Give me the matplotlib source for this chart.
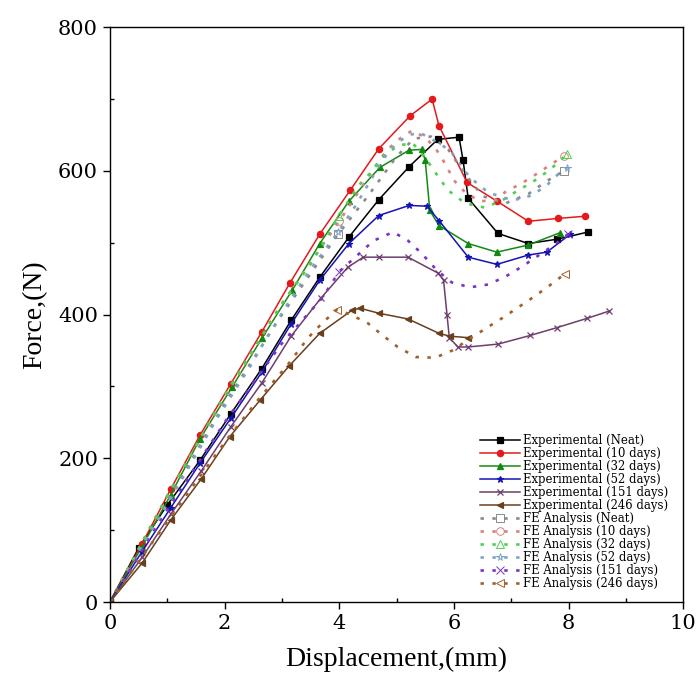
import numpy as np
import matplotlib.pyplot as plt
from matplotlib.ticker import MultipleLocator

# --- experimental curves (displacement mm, force N) ---
neat_x = [0, 0.5, 1.0, 1.57, 2.11, 2.65, 3.16, 3.66, 4.17, 4.69, 5.22, 5.72, 6.09, 6.16, 6.25, 6.77, 7.30, 7.80, 8.34]
neat_y = [0, 75, 135, 197, 262, 325, 392, 452, 508, 560, 606, 644, 647, 615, 562, 513, 499, 505, 515]

d10_x = [0, 0.56, 1.06, 1.57, 2.11, 2.65, 3.14, 3.66, 4.19, 4.69, 5.24, 5.62, 5.74, 6.23, 6.75, 7.30, 7.82, 8.29]
d10_y = [0, 81, 157, 232, 304, 376, 444, 512, 573, 631, 677, 700, 663, 584, 558, 530, 534, 537]

d32_x = [0, 0.56, 1.06, 1.57, 2.13, 2.65, 3.18, 3.66, 4.17, 4.71, 5.22, 5.44, 5.5, 5.58, 5.74, 6.25, 6.75, 7.30, 7.85]
d32_y = [0, 77, 149, 227, 299, 367, 434, 499, 558, 605, 629, 630, 615, 545, 524, 499, 487, 497, 514]

d52_x = [0, 0.56, 1.06, 1.57, 2.11, 2.65, 3.16, 3.66, 4.17, 4.69, 5.22, 5.53, 5.74, 6.25, 6.75, 7.30, 7.62, 8.03]
d52_y = [0, 70, 131, 193, 256, 320, 387, 448, 499, 538, 552, 551, 531, 480, 470, 483, 487, 512]

d151_x = [0, 0.56, 1.06, 1.59, 2.11, 2.65, 3.16, 3.68, 4.15, 4.42, 4.69, 5.2, 5.72, 5.82, 5.88, 5.92, 6.07, 6.25, 6.77, 7.33, 7.80, 8.33, 8.71]
d151_y = [0, 62, 122, 182, 244, 305, 370, 423, 466, 480, 480, 480, 458, 448, 400, 368, 355, 355, 359, 371, 382, 395, 405]

d246_x = [0, 0.56, 1.06, 1.59, 2.09, 2.62, 3.12, 3.66, 4.22, 4.36, 4.69, 5.2, 5.74, 5.93, 6.25]
d246_y = [0, 54, 114, 171, 230, 281, 328, 374, 406, 409, 402, 394, 374, 370, 368]

# --- FE analysis curves ---
fe_neat_x = [0, 1.0, 2.0, 3.0, 3.98, 4.5, 5.0, 5.3, 5.6, 5.9, 6.2, 6.5, 6.9, 7.3, 7.6, 7.92]
fe_neat_y = [0, 140, 276, 400, 512, 565, 620, 645, 648, 630, 595, 565, 555, 568, 585, 600]

fe10_x = [0, 1.0, 2.0, 3.0, 4.0, 4.66, 4.83, 5.1, 5.27, 5.5, 5.7, 5.85, 6.0, 6.2, 6.45, 6.72, 6.93, 7.12, 7.33, 7.54, 7.71, 7.92]
fe10_y = [0, 148, 285, 415, 530, 610, 629, 648, 656, 647, 629, 610, 587, 570, 558, 559, 573, 580, 590, 601, 610, 621]

fe32_x = [0, 1.0, 2.0, 3.0, 3.5, 4.0, 4.33, 4.54, 4.76, 5.03, 5.29, 5.53, 5.71, 5.9, 6.2, 6.54, 6.84, 7.12, 7.38, 7.68, 7.98]
fe32_y = [0, 147, 288, 415, 470, 538, 579, 597, 619, 636, 638, 615, 594, 573, 555, 549, 559, 573, 585, 602, 624]

fe52_x = [0, 0.87, 1.88, 2.44, 2.76, 3.14, 3.49, 3.7, 3.98, 4.28, 4.57, 4.75, 4.97, 5.2, 5.41, 5.6, 5.93, 6.1, 6.28, 6.6, 7.03, 7.36, 7.62, 7.85, 7.98]
fe52_y = [0, 118, 257, 327, 371, 420, 462, 485, 515, 551, 590, 615, 636, 650, 653, 645, 629, 610, 591, 570, 559, 566, 580, 598, 604]

fe151_x = [0, 1.0, 2.0, 3.0, 3.7, 4.0, 4.35, 4.6, 4.94, 5.2, 5.44, 5.7, 5.96, 6.28, 6.6, 6.9, 7.19, 7.47, 7.73, 7.99]
fe151_y = [0, 128, 250, 360, 423, 460, 485, 503, 515, 503, 485, 462, 445, 438, 442, 453, 467, 482, 496, 512]

fe246_x = [0, 1.0, 2.0, 2.6, 3.1, 3.46, 3.7, 3.96, 4.2, 4.5, 4.76, 5.02, 5.34, 5.67, 5.97, 6.25, 6.54, 6.84, 7.1, 7.38, 7.66, 7.94]
fe246_y = [0, 112, 222, 283, 330, 368, 388, 407, 400, 388, 371, 355, 341, 340, 350, 365, 380, 395, 409, 424, 440, 457]

exp_series = [
    (neat_x, neat_y, "Experimental (Neat)", "#000000", "s"),
    (d10_x, d10_y, "Experimental (10 days)", "#e3191c", "o"),
    (d32_x, d32_y, "Experimental (32 days)", "#128a12", "^"),
    (d52_x, d52_y, "Experimental (52 days)", "#1414b4", "*"),
    (d151_x, d151_y, "Experimental (151 days)", "#6e3d6e", "x"),
    (d246_x, d246_y, "Experimental (246 days)", "#6a3f1c", "<"),
]
fe_series = [
    (fe_neat_x, fe_neat_y, "FE Analysis (Neat)", "#8a8a8a", "s"),
    (fe10_x, fe10_y, "FE Analysis (10 days)", "#d98080", "o"),
    (fe32_x, fe32_y, "FE Analysis (32 days)", "#4fd04f", "^"),
    (fe52_x, fe52_y, "FE Analysis (52 days)", "#7fa3c4", "*"),
    (fe151_x, fe151_y, "FE Analysis (151 days)", "#7a35c0", "x"),
    (fe246_x, fe246_y, "FE Analysis (246 days)", "#a0622a", "<"),
]

fig = plt.figure(figsize=(7, 7), dpi=100)
ax = fig.add_axes([0.157, 0.14, 0.819, 0.821])

for x, y, lab, col, mk in exp_series:
    ax.plot(x, y, color=col, lw=1.1, marker=mk, ms=4.5, mew=0.9, label=lab)

for x, y, lab, col, mk in fe_series:
    # markers only near x=4 and at the end, like the original
    i4 = int(np.argmin(np.abs(np.array(x) - 4.0)))
    ax.plot(x, y, color=col, lw=1.9, ls=(0, (1.3, 3.2)), marker=mk, ms=5.5,
            mfc="none", mew=0.7, markevery=[i4, len(x) - 1], label=lab)

ax.set_xlim(0, 10)
ax.set_ylim(0, 800)
ax.xaxis.set_major_locator(MultipleLocator(2))
ax.xaxis.set_minor_locator(MultipleLocator(1))
ax.yaxis.set_major_locator(MultipleLocator(200))
ax.yaxis.set_minor_locator(MultipleLocator(100))
ax.tick_params(which="major", direction="out", length=5, width=1.0, labelsize=15)
ax.tick_params(which="minor", direction="in", length=3, width=1.0)
for lbl in ax.get_xticklabels() + ax.get_yticklabels():
    lbl.set_family("DejaVu Serif")
for s in ax.spines.values():
    s.set_linewidth(1.0)

ax.set_xlabel("Displacement,(mm)", fontsize=20, family="Liberation Serif", labelpad=10)
ax.set_ylabel("Force,(N)", fontsize=20, family="Liberation Serif", labelpad=8)

ax.legend(loc="lower right", bbox_to_anchor=(0.995, 0.0), frameon=False,
          prop={"family": "DejaVu Serif", "size": 8.4}, handlelength=3.4,
          handletextpad=0.3, labelspacing=0.0, borderaxespad=0.6)

fig.savefig("out.png", dpi=100)
